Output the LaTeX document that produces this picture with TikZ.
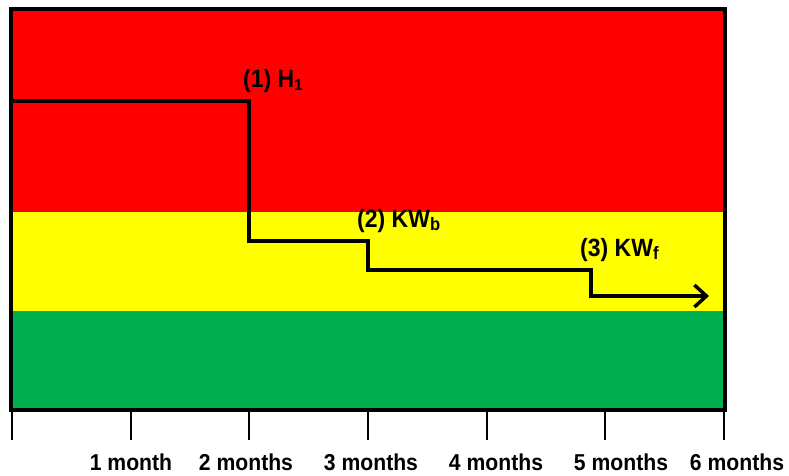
\documentclass[tikz,border=0pt]{standalone}
\usepackage{fontspec}
\setmainfont[FakeStretch=0.92]{Liberation Sans}
\usetikzlibrary{arrows.meta}
\definecolor{zonered}{HTML}{FF0000}
\definecolor{zoneyellow}{HTML}{FFFF00}
\definecolor{zonegreen}{HTML}{00B050}
\tikzset{
  frame/.style={draw=black,line width=4pt},
  tickline/.style={draw=black,line width=2pt},
  steppath/.style={draw=black,line width=3.5pt,line join=miter,-{Straight Barb[length=12pt,width=22pt]}},
  phase/.style={anchor=base west,inner sep=0pt,font=\fontsize{25}{27}\selectfont\bfseries},
  ticklabel/.style={anchor=base,inner sep=0pt,font=\fontsize{23}{25}\selectfont\bfseries}
}
\newcommand{\lowsub}[2]{\raisebox{-0.25ex}{\fontsize{#1}{#1}\selectfont #2}}
\begin{document}
\begin{tikzpicture}[x=1pt,y=-1pt]
  \useasboundingbox (0,0) rectangle (789,475);
  % risk zones
  \fill[zonered] (11,9) rectangle (725,212);
  \fill[zoneyellow] (11,212) rectangle (725,311);
  \fill[zonegreen] (11,311) rectangle (725,410);
  \draw[frame] (11,9) rectangle (725,410);
  % time axis ticks
  \foreach \i/\x in {0/12,1/130.7,2/249.3,3/368,4/486.7,5/605.3,6/724} {
    \coordinate (t\i) at (\x,410);
    \coordinate (b\i) at (\x,440);
    \draw[tickline] (t\i) -- (b\i);
  }
  \node[ticklabel] (m1) at (131,470) {1 month};
  \node[ticklabel] (m2) at (246,470) {2 months};
  \node[ticklabel] (m3) at (371,470) {3 months};
  \node[ticklabel] (m4) at (496,470) {4 months};
  \node[ticklabel] (m5) at (621,470) {5 months};
  \node[ticklabel] (m6) at (737,470) {6 months};
  % step path of the level over time
  \coordinate (s0) at (11,101);
  \coordinate (s1) at (249,101);
  \coordinate (s2) at (249,241);
  \coordinate (s3) at (368,241);
  \coordinate (s4) at (368,270);
  \coordinate (s5) at (591,270);
  \coordinate (s6) at (591,296);
  \coordinate (s7) at (709,296);
  \draw[steppath] (s0) -- (s1) -- (s2) -- (s3) -- (s4) -- (s5) -- (s6) -- (s7);
  % phase labels
  \node[phase] (p1) at (243,87) {(1) H\lowsub{16}{1}};
  \node[phase] (p2) at (357,227) {(2) KW\lowsub{18}{b}};
  \node[phase] (p3) at (580,256) {(3) KW\lowsub{18}{f}};
\end{tikzpicture}
\end{document}
